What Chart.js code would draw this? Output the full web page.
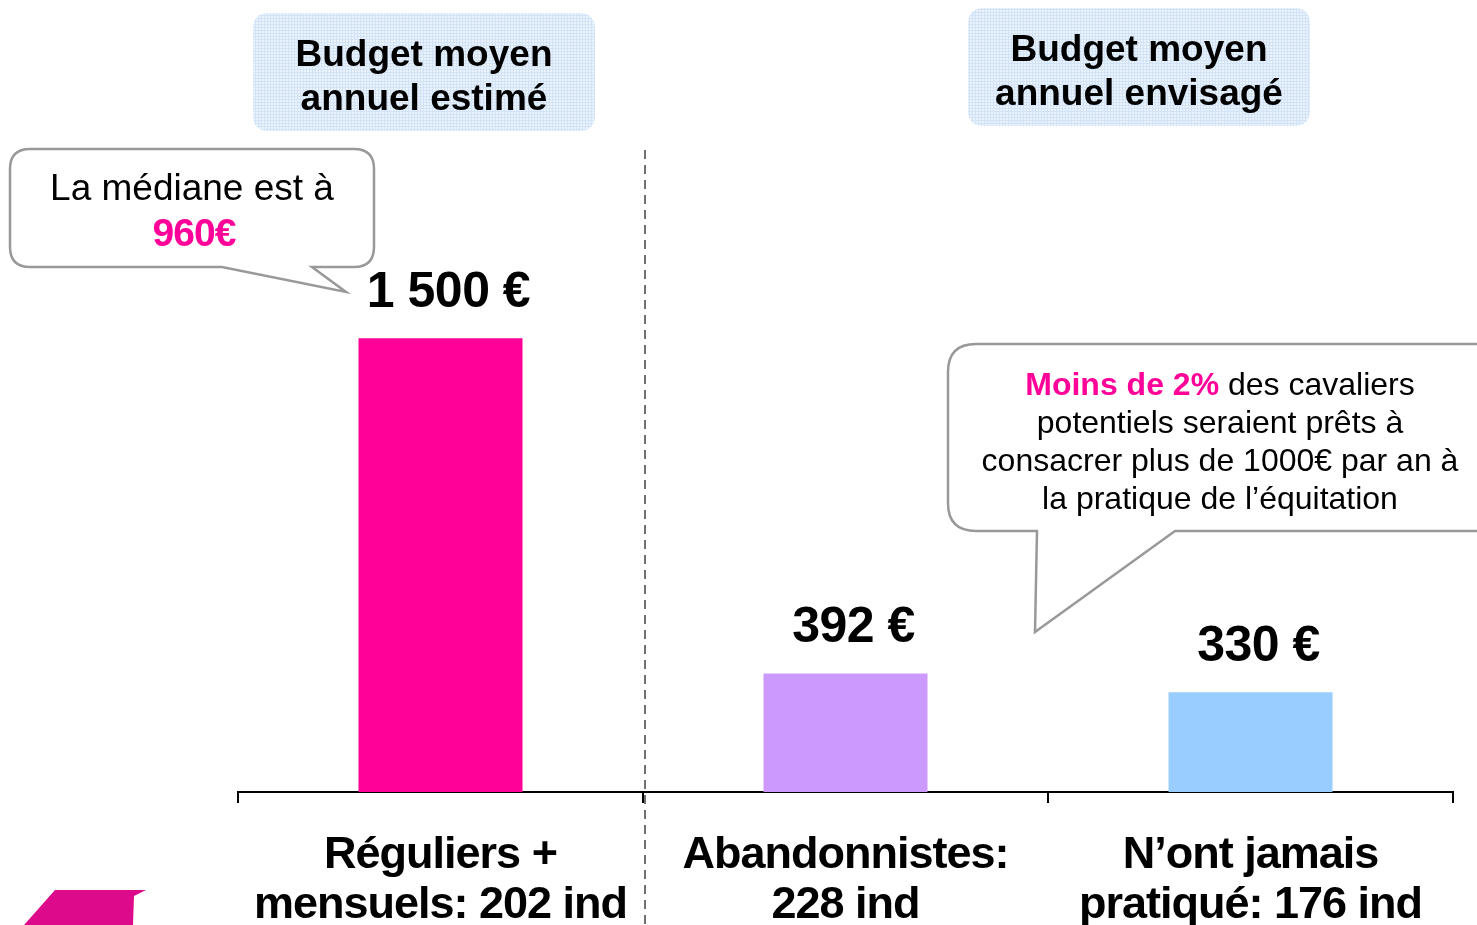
<!DOCTYPE html>
<html>
<head>
<meta charset="utf-8">
<script src="https://cdn.jsdelivr.net/npm/chart.js@4.4.0/dist/chart.umd.min.js"></script>
<style>
  html, body { margin: 0; padding: 0; background: #fff; }
  #wrap { width: 1477px; height: 925px; position: relative; }
</style>
</head>
<body>
<div id="wrap"><canvas id="budget"></canvas></div>
<script>
// data
const groups = [['Réguliers +', 'mensuels: 202 ind'], ['Abandonnistes:', '228 ind'], ['N’ont jamais', 'pratiqué: 176 ind']];
const budgets = [1500, 392, 330];
const budgetLabels = ['1 500 €', '392 €', '330 €'];
const headers = [['Budget moyen', 'annuel estimé'], ['Budget moyen', 'annuel envisagé']];
const medianNote = ['La médiane est à', '960€'];
const noteLines = ['potentiels seraient prêts à', 'consacrer plus de 1000€ par an à', 'la pratique de l’équitation'];

const colors = ['#FF0099', '#CC99FF', '#99CCFF'];
const PINK = '#FF0099';
const FONT = 'Arial, "Liberation Sans", sans-serif';

function roundRect(ctx, x, y, w, h, r) {
    ctx.beginPath();
    ctx.moveTo(x + r, y);
    ctx.lineTo(x + w - r, y);
    ctx.quadraticCurveTo(x + w, y, x + w, y + r);
    ctx.lineTo(x + w, y + h - r);
    ctx.quadraticCurveTo(x + w, y + h, x + w - r, y + h);
    ctx.lineTo(x + r, y + h);
    ctx.quadraticCurveTo(x, y + h, x, y + h - r);
    ctx.lineTo(x, y + r);
    ctx.quadraticCurveTo(x, y, x + r, y);
    ctx.closePath();
}

// callout with a tail: path goes round the box and out to the tip
function callout(ctx, x, y, w, h, r, tailA, tip, tailB) {
    ctx.beginPath();
    ctx.moveTo(x + r, y);
    ctx.lineTo(x + w - r, y);
    ctx.quadraticCurveTo(x + w, y, x + w, y + r);
    ctx.lineTo(x + w, y + h - r);
    ctx.quadraticCurveTo(x + w, y + h, x + w - r, y + h);
    ctx.lineTo(tailB, y + h);
    ctx.lineTo(tip[0], tip[1]);
    ctx.lineTo(tailA, y + h);
    ctx.lineTo(x + r, y + h);
    ctx.quadraticCurveTo(x, y + h, x, y + h - r);
    ctx.lineTo(x, y + r);
    ctx.quadraticCurveTo(x, y, x + r, y);
    ctx.closePath();
    ctx.fillStyle = '#fff';
    ctx.fill();
    ctx.strokeStyle = '#999';
    ctx.lineWidth = 2.5;
    ctx.stroke();
}

function gridPattern(ctx) {
    const c = document.createElement('canvas');
    c.width = 3; c.height = 3;
    const p = c.getContext('2d');
    p.fillStyle = '#eaf2fc';
    p.fillRect(0, 0, 3, 3);
    p.fillStyle = '#d2e3f7';
    p.fillRect(0, 0, 3, 1);
    p.fillRect(0, 0, 1, 3);
    return ctx.createPattern(c, 'repeat');
}

const spacing = {
    id: 'spacing',
    beforeDraw(chart) { chart.ctx.letterSpacing = '-1px'; },
    afterDraw(chart) { chart.ctx.letterSpacing = '0px'; }
};

const decor = {
    id: 'decor',
    beforeDatasetsDraw(chart) {
        const ctx = chart.ctx;
        const x = chart.scales.x;
        ctx.save();
        ctx.letterSpacing = '0px';
        // dashed separator between estimated and planned budget
        const sep = (x.getPixelForValue(0) + x.getPixelForValue(1)) / 2 + 2;
        ctx.strokeStyle = '#707070';
        ctx.lineWidth = 2;
        ctx.setLineDash([9, 6]);
        ctx.beginPath();
        ctx.moveTo(sep, 150);
        ctx.lineTo(sep, 925);
        ctx.stroke();
        ctx.restore();
    },
    afterDraw(chart) {
        const ctx = chart.ctx;
        const meta = chart.getDatasetMeta(0);
        ctx.save();

        // value labels above the bars
        ctx.letterSpacing = '-0.5px';
        ctx.font = 'bold 50px ' + FONT;
        ctx.fillStyle = '#000';
        ctx.textAlign = 'center';
        ctx.textBaseline = 'alphabetic';
        meta.data.forEach(function(bar, i) {
            ctx.fillText(budgetLabels[i], bar.x + 8, bar.y - 31);
        });
        ctx.letterSpacing = '0px';

        // header boxes
        const pat = gridPattern(ctx);
        [[253, 13, 424], [968, 8, 1139]].forEach(function(h, i) {
            roundRect(ctx, h[0], h[1], 342, 118, 16);
            ctx.fillStyle = pat;
            ctx.fill();
            ctx.fillStyle = '#000';
            ctx.font = 'bold 37px ' + FONT;
            ctx.fillText(headers[i][0], h[2], h[1] + 53);
            ctx.fillText(headers[i][1], h[2], h[1] + 97);
        });

        // median callout
        callout(ctx, 10, 149, 364, 118, 20, 222, [346, 292], 312);
        ctx.fillStyle = '#000';
        ctx.font = '37px ' + FONT;
        ctx.fillText(medianNote[0], 192, 200);
        ctx.fillStyle = PINK;
        ctx.font = 'bold 39px ' + FONT;
        ctx.letterSpacing = '-1px';
        ctx.fillText(medianNote[1], 194, 246);
        ctx.letterSpacing = '0px';

        // "Moins de 2%" callout, cut by the right edge
        callout(ctx, 948, 344, 560, 187, 28, 1037, [1035, 632], 1175);
        ctx.font = 'bold 32px ' + FONT;
        const a = 'Moins de 2%';
        const b = ' des cavaliers';
        const wa = ctx.measureText(a).width;
        ctx.font = '32px ' + FONT;
        const wb = ctx.measureText(b).width;
        let sx = 1220 - (wa + wb) / 2;
        ctx.textAlign = 'left';
        ctx.fillStyle = PINK;
        ctx.font = 'bold 32px ' + FONT;
        ctx.fillText(a, sx, 395);
        ctx.fillStyle = '#000';
        ctx.font = '32px ' + FONT;
        ctx.fillText(b, sx + wa, 395);
        ctx.textAlign = 'center';
        noteLines.forEach(function(t, i) {
            ctx.fillText(t, 1220, 433 + i * 38);
        });

        // logo corner
        ctx.fillStyle = '#DD0A8C';
        ctx.beginPath();
        ctx.moveTo(55, 890);
        ctx.lineTo(146, 890);
        ctx.lineTo(134, 896);
        ctx.lineTo(133, 925);
        ctx.lineTo(24, 925);
        ctx.closePath();
        ctx.fill();

        ctx.restore();
    }
};

new Chart(document.getElementById('budget'), {
    type: 'bar',
    data: {
        labels: groups,
        datasets: [{
            data: budgets,
            backgroundColor: colors,
            borderWidth: 0,
            barPercentage: 0.405,
            categoryPercentage: 1
        }]
    },
    options: {
        responsive: true,
        maintainAspectRatio: false,
        animation: false,
        layout: { padding: { left: 238, right: 24, top: 187, bottom: 0 } },
        plugins: { legend: { display: false }, tooltip: { enabled: false } },
        scales: {
            y: { display: false, min: 0, max: 2000 },
            x: {
                border: { display: true, color: '#000', width: 2 },
                grid: { display: true, offset: true, drawOnChartArea: false, drawTicks: true, tickLength: 11, color: '#000', lineWidth: 2 },
                ticks: {
                    color: '#000',
                    padding: 28,
                    maxRotation: 0,
                    autoSkip: false,
                    font: { family: FONT, size: 45, weight: 'bold', lineHeight: 1.11 }
                },
                afterFit: function(scale) { scale.height = 133; }
            }
        }
    },
    plugins: [spacing, decor]
});
</script>
</body>
</html>
